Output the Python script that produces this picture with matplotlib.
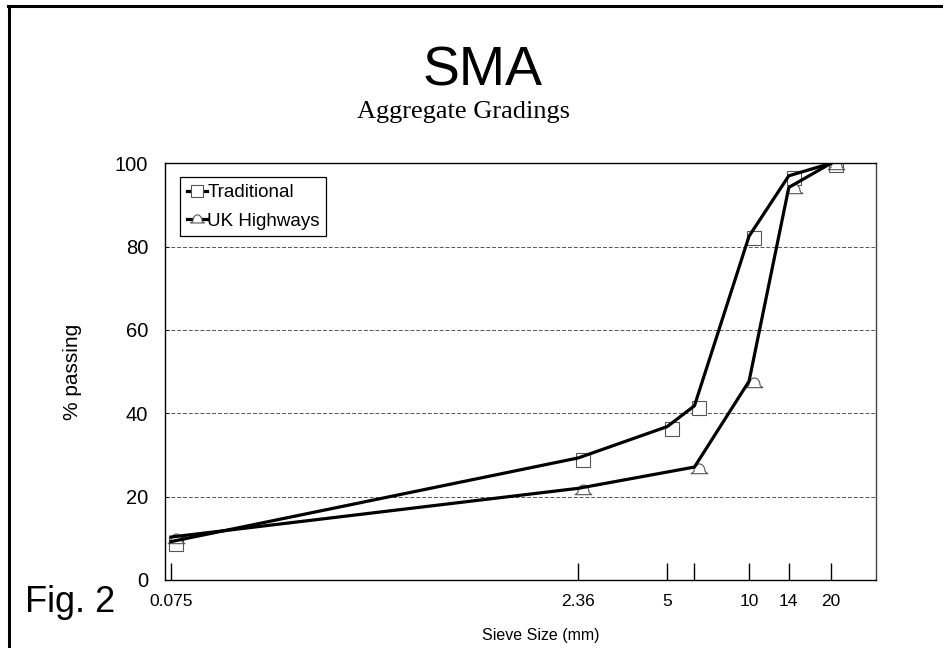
import numpy as np
import matplotlib.pyplot as plt
from matplotlib.lines import Line2D
from matplotlib import transforms

plt.rcParams['font.family'] = ['Liberation Sans', 'DejaVu Sans']

# Sieve sizes (mm) and % passing
sieve_trad = [0.075, 2.36, 5, 6.3, 10, 14, 20]
trad = [9.2, 29.3, 36.8, 41.8, 82.5, 97.0, 100]
sieve_uk = [0.075, 2.36, 6.3, 10, 14, 20]
uk = [10.3, 22.0, 27.1, 47.7, 94.2, 100]

xticks = [0.075, 2.36, 5, 6.3, 10, 14, 20]
xticklabels = ['0.075', '2.36', '5', '', '10', '14', '20']

fig = plt.figure(figsize=(9.43, 6.48), dpi=100)
ax = fig.add_axes([0.175, 0.105, 0.754, 0.643])

# bell-shaped marker for UK Highways
t = np.linspace(0, np.pi, 16)
bell = [(np.cos(a) * 0.8, np.sin(a) * 1.1 - 0.3) for a in t]
bell += [(-1.2, -0.6), (1.2, -0.6), (0.8, -0.3)]

off = transforms.offset_copy(ax.transData, fig=fig, x=5, y=-2, units='dots')

ax.plot(sieve_trad, trad, color='black', lw=2.3, zorder=3)
ax.plot(sieve_uk, uk, color='black', lw=2.3, zorder=3)
ax.plot(sieve_trad, trad, ls='none', marker='s', ms=10, mfc='white',
        mec='#555555', mew=0.8, transform=off, zorder=2)
ax.plot(sieve_uk, uk, ls='none', marker=bell, ms=12, mfc='white',
        mec='#555555', mew=0.8, transform=off, zorder=2)

h1 = Line2D([], [], color='black', lw=2.3, marker='s', ms=8, mfc='white', mec='#555555', mew=0.8)
h2 = Line2D([], [], color='black', lw=2.3, marker=bell, ms=10, mfc='white', mec='#555555', mew=0.8)
leg = ax.legend([h1, h2], ['Traditional', 'UK Highways'], loc='upper left',
                bbox_to_anchor=(0.021, 0.966), fontsize=13.5, handlelength=1.1,
                handletextpad=0.0, borderpad=0.35, labelspacing=0.6,
                borderaxespad=0, fancybox=False, edgecolor='black', framealpha=1)
leg.get_frame().set_linewidth(0.9)

ax.set_xscale('log')
ax.set_xlim(0.0713, 29.3)
ax.set_ylim(0, 100)
ax.set_xticks(xticks)
ax.set_xticklabels(xticklabels)
ax.minorticks_off()
ax.tick_params(axis='x', direction='in', length=12, width=1, pad=10, labelsize=12.5)
ax.set_yticks([0, 20, 40, 60, 80, 100])
ax.tick_params(axis='y', direction='in', length=3, width=0.6, pad=12, labelsize=14.5)

for y in [20, 40, 60, 80]:
    ax.axhline(y, color='#555555', lw=0.7, ls=(0, (4, 2)), zorder=1)

for s in ax.spines.values():
    s.set_linewidth(1.0)
ax.spines['right'].set_color('#444444')

ax.set_ylabel('% passing', fontsize=15, labelpad=24)
fig.text(0.573, 0.013, 'Sieve Size (mm)', ha='center', fontsize=11.5)

fig.text(0.512, 0.868, 'SMA', ha='center', fontsize=40)
fig.text(0.492, 0.818, 'Aggregate Gradings', ha='center', fontsize=19,
         family=['Liberation Serif', 'DejaVu Serif'])
fig.text(0.027, 0.055, 'Fig. 2', ha='left', fontsize=26)

# outer frame (left and top edges)
fig.add_artist(Line2D([9 / 943, 9 / 943], [0, 1 - 6 / 648], color='black', lw=2.2,
                      transform=fig.transFigure))
fig.add_artist(Line2D([8 / 943, 1], [1 - 6 / 648, 1 - 6 / 648], color='black', lw=2.2,
                      transform=fig.transFigure))

fig.savefig('out.png', dpi=100)
